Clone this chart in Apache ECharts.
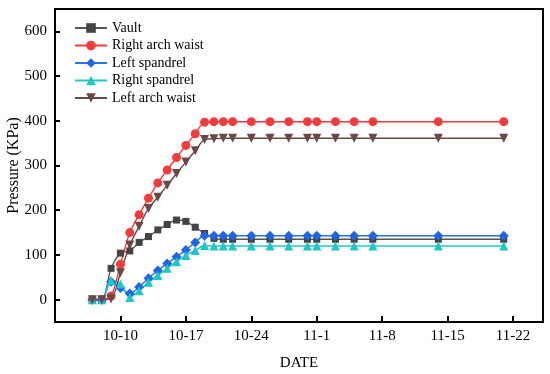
<!DOCTYPE html>
<html>
<head>
<meta charset="utf-8">
<script src="https://cdn.jsdelivr.net/npm/echarts@6/dist/echarts.min.js"></script>
<style>html,body{margin:0;padding:0;background:#fff}#c{width:550px;height:374px}</style>
</head>
<body>
<div id="c"></div>
<script>
// Day numbers counted from Oct 0 (Oct 10 = 10)
var days = [7,8,9,10,11,12,13,14,15,16,17,18,19,20,21,22,24,26,28,30,31,33,35,37,44,51];
var vault = [0,0,70,104,109,128,141,156,168,178,175,162,148,137,135,135,135,135,135,135,135,135,135,135,135,135];
var rightArchWaist = [0,0,8,79,150,190,227,261,290,318,345,371,397,398,398,398,398,398,398,398,398,398,398,398,398,398];
var leftSpandrel = [0,0,40,26,14,28,48,65,81,96,111,128,143,143,143,143,143,143,143,143,143,143,143,143,143,143];
var rightSpandrel = [0,0,42,35,5,20,39,54,70,85,99,110,121,120,120,120,120,120,120,120,120,120,120,120,120,120];
var leftArchWaist = [0,0,2,60,122,164,204,229,256,282,308,333,358,360,361,361,361,361,361,361,361,361,361,361,361,361];
var seriesNames = ['Vault','Right arch waist','Left spandrel','Right spandrel','Left arch waist'];
var xTickValues = [10,17,24,31,38,45,52];
var xTickLabels = ['10-10','10-17','10-24','11-1','11-8','11-15','11-22'];
var yTickValues = [0,100,200,300,400,500,600];

function pairs(arr){ return days.map(function(d,i){ return [d, arr[i]]; }); }

var FONT = "'Liberation Serif','Times New Roman',serif";
var chart = echarts.init(document.getElementById('c'), null, {renderer:'canvas'});

function mk(name, data, color, lineColor, symbol, size, rot){
  return {
    name: name, type: 'line', data: pairs(data),
    symbol: symbol, symbolSize: size, symbolRotate: rot || 0,
    smooth: 0.3,
    lineStyle: {color: lineColor, width: 1.4},
    itemStyle: {color: color},
    emphasis: {disabled: true},
    animation: false
  };
}

chart.setOption({
  animation: false,
  grid: {left: 55, right: 7, top: 9, bottom: 52, containLabel: false, outerBoundsMode: 'none',
    show: true, borderColor: '#000', borderWidth: 2, backgroundColor: 'transparent'},
  legend: {
    orient: 'vertical', left: 69, top: 16,
    itemWidth: 32, itemHeight: 12, itemGap: 3.5,
    textStyle: {fontFamily: FONT, fontSize: 14, color: '#000'},
    data: seriesNames
  },
  xAxis: {
    type: 'value', min: 3, max: 55.2,
    name: 'DATE', nameLocation: 'middle', nameGap: 34, nameMoveOverlap: false,
    nameTextStyle: {fontFamily: FONT, fontSize: 15, color: '#000'},
    axisLine: {onZero: false, lineStyle: {color: '#000', width: 2}},
    axisTick: {inside: true, length: 6, lineStyle: {color: '#000', width: 2}, customValues: xTickValues},
    axisLabel: {fontFamily: FONT, fontSize: 15, color: '#000', margin: 7, customValues: xTickValues,
      formatter: function(v){ var i = xTickValues.indexOf(v); return i >= 0 ? xTickLabels[i] : ''; }},
    splitLine: {show: false}
  },
  yAxis: {
    type: 'value', min: -50, max: 650,
    name: 'Pressure (KPa)', nameLocation: 'middle', nameGap: 33, nameMoveOverlap: false,
    nameTextStyle: {fontFamily: FONT, fontSize: 16, color: '#000'},
    axisLine: {onZero: false, lineStyle: {color: '#000', width: 2}},
    axisTick: {inside: true, length: 5, lineStyle: {color: '#000', width: 2}, customValues: yTickValues},
    axisLabel: {fontFamily: FONT, fontSize: 15, color: '#000', margin: 8, customValues: yTickValues},
    splitLine: {show: false}
  },
  series: [
    mk(seriesNames[0], vault, '#444444', '#555555', 'rect', 7),
    mk(seriesNames[1], rightArchWaist, '#f03c3c', '#f03c3c', 'circle', 9),
    mk(seriesNames[2], leftSpandrel, '#1f66e0', '#2a72e8', 'diamond', 10),
    mk(seriesNames[3], rightSpandrel, '#1ec6c6', '#22c8c8', 'triangle', 9),
    mk(seriesNames[4], leftArchWaist, '#6b4848', '#6b4848', 'triangle', 9, 180)
  ]
});
</script>
</body>
</html>
